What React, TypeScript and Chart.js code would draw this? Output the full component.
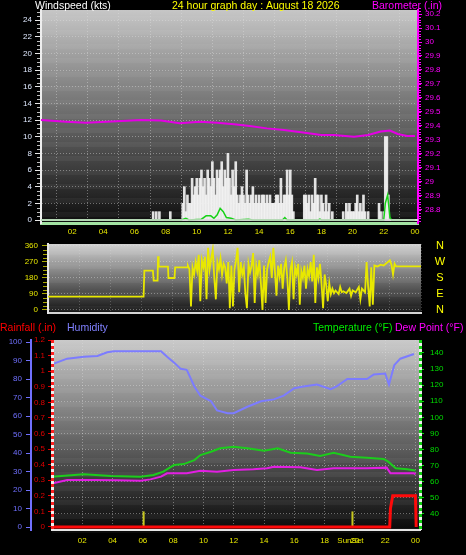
import React, { useEffect, useRef } from "react";
import { Chart, registerables } from "chart.js";

Chart.register(...registerables);

type P = [number, number];

const FONT = "'Liberation Sans', Arial, Helvetica, sans-serif";

// ---------- Panel 1: wind speed (kts) & barometer (.in) ----------
const barometer: P[] = [
  [0, 29.443], [1.6, 29.431], [2.9, 29.424], [4.2, 29.43], [5.5, 29.437], [6.4, 29.443],
  [7.7, 29.44], [8.9, 29.419], [10.2, 29.43], [11.3, 29.424], [12.4, 29.412], [13.4, 29.4],
  [14.5, 29.383], [15.6, 29.371], [16.7, 29.355], [18.0, 29.336], [18.8, 29.336], [20.1, 29.324],
  [21.0, 29.336], [21.8, 29.36], [22.4, 29.367], [22.9, 29.343], [23.5, 29.329], [24, 29.329],
];

const windGust: P[] = [
  [7.2, 1], [7.4, 1], [7.6, 1], [8.3, 1],
  [9.1, 2], [9.2, 4], [9.3, 1], [9.4, 3], [9.5, 2], [9.6, 2], [9.7, 5], [9.8, 3], [9.9, 4],
  [10.0, 5], [10.1, 3], [10.2, 5], [10.3, 6], [10.4, 4], [10.5, 5], [10.6, 3], [10.7, 6], [10.8, 5], [10.9, 4],
  [11.0, 7], [11.1, 5], [11.2, 3], [11.3, 6], [11.4, 5], [11.5, 6], [11.6, 7], [11.7, 4], [11.8, 6], [11.9, 5],
  [12.0, 8], [12.1, 5], [12.2, 3], [12.3, 6], [12.4, 4], [12.5, 7], [12.6, 3], [12.7, 2], [12.8, 3], [12.9, 4],
  [13.0, 3], [13.1, 2], [13.2, 6], [13.3, 3], [13.4, 2], [13.5, 3], [13.6, 4], [13.7, 2], [13.8, 3], [13.9, 2],
  [14.0, 3], [14.1, 2], [14.2, 3], [14.3, 3], [14.4, 2], [14.5, 3], [14.6, 2], [14.7, 3], [14.8, 2], [14.9, 2],
  [15.0, 2], [15.1, 3], [15.2, 3], [15.3, 2], [15.4, 5], [15.5, 2], [15.6, 3], [15.7, 3], [15.8, 6], [15.9, 3],
  [16.0, 6], [16.1, 3], [16.2, 1], [16.9, 3],
  [17.0, 3], [17.1, 2], [17.2, 3], [17.3, 1], [17.4, 3], [17.5, 2], [17.6, 5], [17.7, 3], [17.8, 3], [17.9, 1],
  [18.0, 3], [18.1, 2], [18.2, 1], [18.3, 3], [18.4, 1], [18.5, 2], [18.7, 1],
  [19.4, 1], [19.6, 2], [19.7, 1], [19.8, 2], [19.9, 1],
  [20.0, 1], [20.1, 1], [20.2, 2], [20.3, 3], [20.4, 1], [20.5, 2], [20.6, 1], [20.7, 3], [20.8, 1],
  [21.0, 1], [21.7, 2], [21.8, 1], [22.0, 1], [22.1, 10], [22.2, 10], [22.3, 3],
];

const windAverage: P[] = [
  [0, 0], [9.0, 0], [9.3, 0.2], [9.5, 0], [10.3, 0.1], [10.6, 0.5], [10.9, 0.5], [11.1, 0.2],
  [11.3, 0.6], [11.5, 1.4], [11.7, 1.0], [11.9, 0.3], [12.2, 0.2], [12.5, 0], [13.3, 0.1],
  [13.6, 0], [15.5, 0], [15.65, 0.3], [15.8, 0], [17.8, 0], [17.9, 0.1], [18.0, 0], [22.0, 0],
  [22.1, 2.0], [22.25, 3.0], [22.4, 0.3], [22.5, 0], [24, 0],
];

// ---------- Panel 2: wind direction (degrees) ----------
const windDirection: P[] = [
  [0, 75], [6.15, 75], [6.2, 222], [6.75, 222], [6.8, 165], [7.05, 165], [7.08, 302], [7.12, 244],
  [7.72, 244], [7.75, 180], [8.14, 180], [8.18, 240], [8.95, 240],
  [9.0, 250], [9.1, 230], [9.2, 20], [9.3, 240], [9.4, 200], [9.5, 270], [9.6, 220], [9.7, 310],
  [9.8, 50], [9.9, 280], [10.0, 240], [10.1, 300], [10.2, 60], [10.3, 350], [10.4, 230], [10.5, 290],
  [10.6, 340], [10.7, 180], [10.8, 60], [10.9, 270], [11.0, 230], [11.1, 290], [11.2, 200], [11.3, 260],
  [11.4, 240], [11.5, 150], [11.6, 270], [11.7, 10], [11.8, 250], [11.9, 20], [12.0, 230], [12.1, 280],
  [12.2, 350], [12.3, 100], [12.4, 270], [12.5, 200], [12.6, 240], [12.7, 90], [12.8, 10], [12.9, 260],
  [13.0, 210], [13.1, 250], [13.2, 320], [13.3, 40], [13.4, 250], [13.5, 200], [13.6, 280], [13.7, 150],
  [13.8, 0], [13.9, 250], [14.0, 40], [14.1, 230], [14.2, 270], [14.3, 300], [14.4, 180], [14.5, 350],
  [14.6, 220], [14.7, 80], [14.8, 250], [14.9, 190], [15.0, 260], [15.1, 120], [15.2, 240], [15.3, 280],
  [15.4, 180], [15.5, 0], [15.6, 230], [15.7, 270], [15.8, 60], [15.9, 240], [16.0, 200], [16.1, 260],
  [16.2, 30], [16.3, 220], [16.4, 180], [16.5, 250], [16.6, 120], [16.7, 230], [16.8, 190], [16.9, 270],
  [17.0, 160], [17.1, 310], [17.2, 40], [17.3, 240], [17.4, 180], [17.5, 260], [17.6, 150], [17.7, 10],
  [17.8, 200], [17.9, 140], [18.0, 50],
  [18.1, 150], [18.2, 90], [18.3, 120], [18.4, 95], [18.5, 110], [18.6, 100], [18.7, 90], [18.8, 130],
  [18.9, 100], [19.0, 105], [19.2, 95], [19.4, 120], [19.5, 80], [19.6, 110], [19.8, 100], [20.0, 130],
  [20.1, 60], [20.2, 120], [20.4, 100], [20.5, 270], [20.6, 130], [20.7, 20], [20.8, 240], [20.9, 30],
  [21.0, 250], [21.2, 245], [21.4, 255], [21.6, 250], [21.8, 265], [22.0, 280], [22.1, 255], [22.2, 200],
  [22.3, 260], [22.4, 245], [24, 245],
];

const compassLabels = ["N", "W", "S", "E", "N"];
const compassDegrees = [360, 270, 180, 90, 0];

// ---------- Panel 3: rain, humidity, temperature, dew point ----------
const humidity: P[] = [
  [0, 88], [1.0, 91], [2.1, 92], [3.0, 92.5], [3.65, 94.5], [4.1, 95], [7.2, 95], [7.6, 92],
  [8.05, 89], [8.5, 85.5], [8.9, 85], [9.4, 76], [9.8, 71], [10.5, 68], [10.9, 63], [11.6, 61.5],
  [12.0, 61.5], [12.9, 65], [13.8, 68], [14.65, 69], [15.3, 71], [16.0, 75], [16.6, 76], [17.5, 77],
  [18.4, 74.5], [18.8, 76], [19.5, 80], [20.8, 80], [21.25, 82.5], [22.0, 83], [22.25, 77],
  [22.6, 87.5], [23.0, 91], [23.9, 93.5],
];

const temperature: P[] = [
  [0, 63.2], [2.1, 64.7], [3.9, 63.6], [5.85, 63.2], [6.7, 64.2], [7.35, 66.3], [8.05, 70.4],
  [8.7, 71], [9.4, 73.5], [9.8, 76.6], [10.5, 78.7], [11.1, 80.8], [12.0, 81.8], [12.9, 80.8],
  [14.0, 79.3], [14.9, 80.8], [15.75, 78], [16.85, 77.6], [17.7, 76], [18.6, 78], [19.7, 75.6],
  [20.8, 75], [21.9, 74.2], [22.2, 72.5], [22.7, 68.4], [23.45, 67.8], [24, 67],
];

const dewPoint: P[] = [
  [0, 59], [1.0, 61.1], [2.8, 61.1], [4.3, 61], [5.85, 60.7], [6.5, 61.5], [7.2, 63.2], [7.6, 65.3],
  [8.9, 65.3], [9.8, 66.9], [10.9, 66.3], [12.0, 67.3], [13.3, 67.8], [14.2, 68.4], [14.65, 69.4],
  [16.4, 69], [17.5, 67.3], [18.6, 68.4], [20.8, 68.4], [22.1, 68.8], [22.35, 65.3], [23.9, 65.3],
  [24, 64.6],
];

const rainfall: P[] = [
  [0, 0], [22.3, 0], [22.35, 0.12], [22.5, 0.2], [24.0, 0.2], [24.05, 0],
];

const sunTimes = [6.05, 19.84];
const sunLabel = "SunSet";

const topTitles = [
  { text: "Windspeed (kts)", x: 35, color: "#ffffff" },
  { text: "24 hour graph day : August 18 2026", x: 172, color: "#ffff00" },
  { text: "Barometer (.in)", x: 372, color: "#ff00ff" },
];
const bottomTitles = [
  { text: "Rainfall (.in)", x: 0, color: "#ff0000" },
  { text: "Humidity", x: 67, color: "#8080ff" },
  { text: "Temperature (°F)", x: 313, color: "#00ee00" },
  { text: "Dew Point (°F)", x: 395, color: "#ff00ff" },
];

// ---------- helpers ----------
const xy = (arr: P[]) => arr.map(([x, y]) => ({ x, y }));
const tickFont = { family: FONT, size: 8 };
const gridDot = "rgba(225,225,225,0.42)";
const hourLabel = (v: any) => {
  const n = Number(v);
  if (n <= 0) return "";
  return String(Math.round(n) % 24).padStart(2, "0");
};
const oneDecimal = (v: any) => String(Math.round(Number(v) * 10) / 10);

const fix = (w?: number, h?: number) => (s: any) => {
  if (w !== undefined) s.width = w;
  if (h !== undefined) s.height = h;
  s.paddingTop = 0;
  s.paddingBottom = 0;
  s.paddingLeft = 0;
  s.paddingRight = 0;
};

const gradientBg = (top: string, bottom: string) => ({
  id: "gradientBg",
  beforeDraw(chart: any) {
    const { ctx, chartArea: a } = chart;
    const g = ctx.createLinearGradient(0, a.top, 0, a.bottom);
    g.addColorStop(0, top);
    g.addColorStop(1, bottom);
    ctx.save();
    ctx.fillStyle = g;
    ctx.fillRect(a.left, a.top, a.right - a.left, a.bottom - a.top);
    ctx.fillStyle = "rgba(255,255,255,0.045)";
    for (let y = a.top + 6; y < a.bottom; y += 14) ctx.fillRect(a.left, y, a.right - a.left, 5);
    ctx.restore();
  },
});

const dashedAxis = (ctx: any, x: number, top: number, bottom: number, color: string) => {
  ctx.save();
  ctx.lineWidth = 3;
  ctx.strokeStyle = "#f0f0f0";
  ctx.beginPath();
  ctx.moveTo(x, top);
  ctx.lineTo(x, bottom);
  ctx.stroke();
  ctx.setLineDash([3, 3]);
  ctx.strokeStyle = color;
  ctx.beginPath();
  ctx.moveTo(x, top);
  ctx.lineTo(x, bottom);
  ctx.stroke();
  ctx.restore();
};

const baseOptions = {
  responsive: false,
  animation: false as const,
  events: [] as any[],
  plugins: { legend: { display: false }, tooltip: { enabled: false } },
};

export default function App() {
  const ref1 = useRef<HTMLCanvasElement | null>(null);
  const ref2 = useRef<HTMLCanvasElement | null>(null);
  const ref3 = useRef<HTMLCanvasElement | null>(null);

  useEffect(() => {
    document.body.style.margin = "0";
    document.body.style.background = "#000";

    // ---------- Panel 1 ----------
    const c1 = new Chart(ref1.current as HTMLCanvasElement, {
      type: "line",
      data: {
        datasets: [
          {
            type: "line", data: xy(barometer), yAxisID: "yBaro", borderColor: "#e400e4",
            borderWidth: 2, pointRadius: 0, order: 0,
          } as any,
          {
            type: "line", data: xy(windAverage), yAxisID: "y", borderColor: "#18d218",
            borderWidth: 1.5, pointRadius: 0, order: 1,
          },
          {
            type: "bar", data: xy(windGust), yAxisID: "y", backgroundColor: "rgba(242,242,242,0.92)",
            barThickness: 2, order: 2,
          },
        ],
      },
      options: {
        ...baseOptions,
        layout: { padding: { top: 10, left: 0, right: 0, bottom: 0 } },
        scales: {
          x: {
            type: "linear", min: 0, max: 24.2, offset: false, afterFit: fix(undefined, 17),
            ticks: {
              stepSize: 2, includeBounds: false, autoSkip: false, maxRotation: 0,
              color: "#e6e600", font: tickFont, padding: 4, callback: hourLabel,
            },
            grid: { color: gridDot, drawTicks: false },
            border: { color: "#a3e3a3", width: 3, dash: [1, 2] },
          },
          y: {
            type: "linear", position: "left", min: -0.36, max: 25.2, afterFit: fix(41),
            ticks: { stepSize: 2, includeBounds: false, color: "#dfe9ff", font: tickFont, padding: 3 },
            grid: { color: gridDot, tickColor: "#e8e8e8", tickLength: 6 },
            border: { color: "#eeeeee", width: 2, dash: [1, 2] },
          },
          yBaro: {
            type: "linear", position: "right", min: 28.707, max: 30.2286, afterFit: fix(48),
            ticks: {
              stepSize: 0.1, includeBounds: false, color: "#ff00ff", font: tickFont, padding: 3,
              callback: oneDecimal,
            },
            grid: { drawOnChartArea: false, tickColor: "#ff00ff", tickLength: 4 },
            border: { color: "#ff00ff", width: 2 },
          },
        } as any,
      },
      plugins: [
        gradientBg("#c6c6c6", "#0e0e0e"),
        {
          id: "deco1",
          beforeDatasetsDraw(chart: any) {
            const { ctx, chartArea: a, scales } = chart;
            const y0 = scales.y.getPixelForValue(0);
            ctx.save();
            ctx.strokeStyle = "#d8d8d8";
            ctx.lineWidth = 2;
            ctx.beginPath();
            ctx.moveTo(a.left, y0);
            ctx.lineTo(a.right, y0);
            ctx.stroke();
            ctx.restore();
          },
          afterDatasetsDraw(chart: any) {
            const { ctx, chartArea: a, scales } = chart;
            const y0 = scales.y.getPixelForValue(0);
            ctx.save();
            ctx.strokeStyle = "#d8d8d8";
            ctx.lineWidth = 1.5;
            ctx.beginPath();
            ctx.moveTo(a.left, y0);
            ctx.lineTo(a.right, y0);
            ctx.stroke();
            ctx.restore();
          },
          afterDraw(chart: any) {
            const { ctx, chartArea: a, scales } = chart;
            ctx.save();
            ctx.strokeStyle = "#bdbdbd";
            ctx.lineWidth = 1;
            for (let i = 0; i <= 50; i++) {
              if (i % 4 === 0) continue;
              const y = Math.round(scales.y.getPixelForValue(i / 2)) + 0.5;
              ctx.beginPath();
              ctx.moveTo(a.left - 4, y);
              ctx.lineTo(a.left - 1, y);
              ctx.stroke();
            }
            ctx.strokeStyle = "#ff00ff";
            for (let i = 0; i <= 76; i++) {
              const y = Math.round(scales.yBaro.getPixelForValue(28.72 + i * 0.02)) + 0.5;
              ctx.beginPath();
              ctx.moveTo(a.right + 1, y);
              ctx.lineTo(a.right + 3, y);
              ctx.stroke();
            }
            ctx.font = `10.5px ${FONT}`;
            ctx.textBaseline = "alphabetic";
            ctx.textAlign = "left";
            for (const t of topTitles) {
              ctx.fillStyle = t.color;
              ctx.fillText(t.text, t.x, 9);
            }
            ctx.restore();
          },
        },
      ],
    });

    // ---------- Panel 2 ----------
    const c2 = new Chart(ref2.current as HTMLCanvasElement, {
      type: "line",
      data: {
        datasets: [
          {
            data: xy(windDirection), borderColor: "#e8e800", borderWidth: 1.8, pointRadius: 0,
          },
        ],
      },
      options: {
        ...baseOptions,
        layout: { padding: { top: 4, left: 0, right: 45, bottom: 0 } },
        scales: {
          x: {
            type: "linear", min: 0, max: 24, afterFit: fix(undefined, 7),
            ticks: { display: false, stepSize: 2 },
            grid: { color: "rgba(225,225,225,0.25)", drawTicks: false },
            border: { color: "#d4d4d4", width: 2, dash: [1, 2] },
          },
          y: {
            type: "linear", position: "left", min: -16.9, max: 371.25, afterFit: fix(48),
            ticks: { stepSize: 90, includeBounds: false, color: "#e6e600", font: tickFont, padding: 4 },
            grid: { color: gridDot, tickColor: "#a8a800", tickLength: 6 },
            border: { color: "#e6e6e6", width: 2, dash: [1, 2] },
          },
        } as any,
      },
      plugins: [
        gradientBg("#d2d2d2", "#121212"),
        {
          id: "deco2",
          afterDraw(chart: any) {
            const { ctx, chartArea: a, scales } = chart;
            ctx.save();
            ctx.strokeStyle = "#a8a800";
            ctx.lineWidth = 1;
            for (let i = 0; i <= 16; i++) {
              if (i % 4 === 0) continue;
              const y = Math.round(scales.y.getPixelForValue(i * 22.5)) + 0.5;
              ctx.beginPath();
              ctx.moveTo(a.left - 5, y);
              ctx.lineTo(a.left - 1, y);
              ctx.stroke();
            }
            ctx.fillStyle = "#ffff00";
            ctx.font = `11px ${FONT}`;
            ctx.textAlign = "center";
            ctx.textBaseline = "middle";
            compassLabels.forEach((l, i) => {
              ctx.fillText(l, 440, scales.y.getPixelForValue(compassDegrees[i]));
            });
            ctx.restore();
          },
        },
      ],
    });

    // ---------- Panel 3 ----------
    const c3 = new Chart(ref3.current as HTMLCanvasElement, {
      type: "line",
      data: {
        datasets: [
          {
            data: xy(rainfall), yAxisID: "yRain", borderColor: "#ff0a0a", borderWidth: 3,
            pointRadius: 0, order: 0,
          },
          {
            data: xy(dewPoint), yAxisID: "yTemp", borderColor: "#e21ee2", borderWidth: 2,
            pointRadius: 0, order: 1,
          },
          {
            data: xy(temperature), yAxisID: "yTemp", borderColor: "#1ccc1c", borderWidth: 2,
            pointRadius: 0, order: 2,
          },
          {
            data: xy(humidity), yAxisID: "yHum", borderColor: "#7c7cff", borderWidth: 2,
            pointRadius: 0, order: 3,
          },
        ],
      },
      options: {
        ...baseOptions,
        layout: { padding: { top: 20, left: 0, right: 0, bottom: 0 } },
        scales: {
          x: {
            type: "linear", min: 0, max: 24.3, afterFit: fix(undefined, 25),
            ticks: {
              stepSize: 2, includeBounds: false, autoSkip: false, maxRotation: 0,
              color: "#e6e600", font: tickFont, padding: 6, callback: hourLabel,
            },
            grid: { color: gridDot, drawTicks: false },
            border: { color: "#e6e6e6", width: 2, dash: [1, 2] },
          },
          yHum: {
            type: "linear", position: "left", weight: 2, min: -1.6, max: 101.1, afterFit: fix(31),
            ticks: { stepSize: 10, includeBounds: false, color: "#7070ff", font: tickFont, padding: 4 },
            grid: { drawOnChartArea: false, tickColor: "#7070ff", tickLength: 5 },
            border: { color: "#7070ff", width: 2 },
          },
          yRain: {
            type: "linear", position: "left", weight: 1, min: -0.0193, max: 1.2, afterFit: fix(21),
            ticks: {
              stepSize: 0.1, includeBounds: false, color: "#e00000", font: tickFont, padding: 3,
              callback: oneDecimal,
            },
            grid: { drawOnChartArea: false, tickColor: "#e00000", tickLength: 4 },
            border: { display: false },
          },
          yTemp: {
            type: "linear", position: "right", min: 30.06, max: 148.07, afterFit: fix(46),
            ticks: { stepSize: 10, includeBounds: false, color: "#00dd00", font: tickFont, padding: 6 },
            grid: { color: gridDot, tickColor: "#00dd00", tickLength: 4 },
            border: { display: false, dash: [1, 2] },
          },
        } as any,
      },
      plugins: [
        gradientBg("#cacaca", "#0a0a0a"),
        {
          id: "deco3",
          beforeDatasetsDraw(chart: any) {
            const { ctx, scales } = chart;
            ctx.save();
            ctx.strokeStyle = "#c8c820";
            ctx.lineWidth = 2;
            for (const t of sunTimes) {
              const x = scales.x.getPixelForValue(t);
              ctx.beginPath();
              ctx.moveTo(x, scales.yRain.getPixelForValue(0.1));
              ctx.lineTo(x, scales.yRain.getPixelForValue(0));
              ctx.stroke();
            }
            ctx.restore();
          },
          afterDraw(chart: any) {
            const { ctx, chartArea: a, scales } = chart;
            dashedAxis(ctx, a.left + 0.5, a.top, a.bottom, "#ff2020");
            dashedAxis(ctx, a.right + 0.5, a.top, a.bottom, "#10d010");
            ctx.save();
            ctx.fillStyle = "#e6e600";
            ctx.font = `8px ${FONT}`;
            ctx.textAlign = "center";
            ctx.textBaseline = "middle";
            ctx.fillText(sunLabel, scales.x.getPixelForValue(sunTimes[1]) - 2, a.bottom + 11);
            ctx.font = `10.5px ${FONT}`;
            ctx.textAlign = "left";
            ctx.textBaseline = "alphabetic";
            for (const t of bottomTitles) {
              ctx.fillStyle = t.color;
              ctx.fillText(t.text, t.x, 11);
            }
            ctx.restore();
          },
        },
      ],
    });

    return () => {
      c1.destroy();
      c2.destroy();
      c3.destroy();
    };
  }, []);

  return (
    <div style={{ position: "fixed", left: 0, top: 0, width: 466, height: 555, background: "#000" }}>
      <canvas ref={ref1} width={466} height={240} style={{ position: "absolute", left: 0, top: 0, width: 466, height: 240 }} />
      <canvas ref={ref2} width={466} height={80} style={{ position: "absolute", left: 0, top: 240, width: 466, height: 80 }} />
      <canvas ref={ref3} width={466} height={235} style={{ position: "absolute", left: 0, top: 320, width: 466, height: 235 }} />
    </div>
  );
}
